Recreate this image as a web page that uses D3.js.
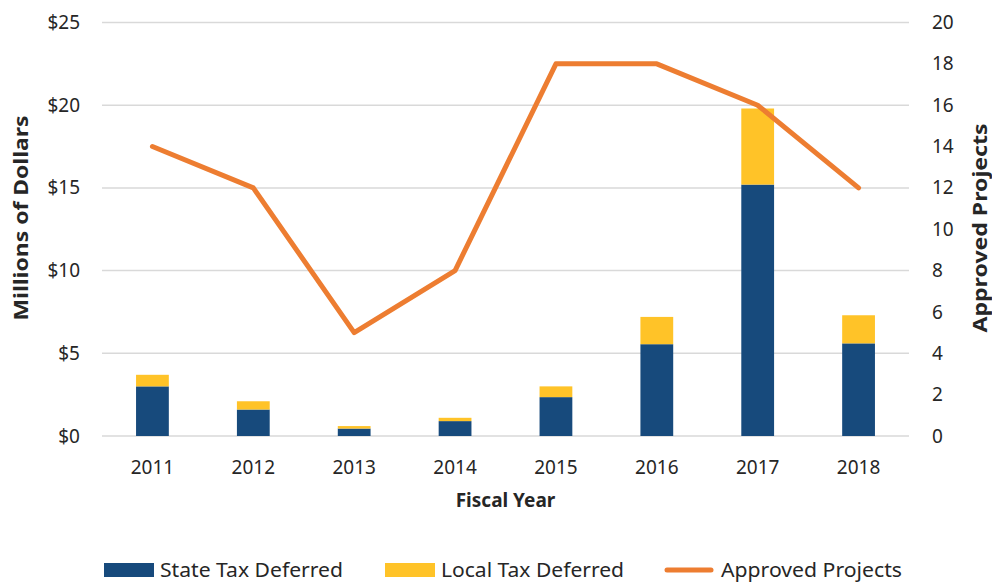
<!DOCTYPE html>
<html>
<head>
<meta charset="utf-8">
<script src="https://cdn.jsdelivr.net/npm/d3@7"></script>
<style>
  body { margin: 0; background: #fff; }
  text { font-family: "Noto Sans", sans-serif; fill: #262626; }
</style>
</head>
<body>
<svg id="chart" width="992" height="582"></svg>
<script>
// values
var years = ['2011', '2012', '2013', '2014', '2015', '2016', '2017', '2018'];
var stateTax = [3.0, 1.6, 0.45, 0.9, 2.35, 5.55, 15.2, 5.6];
var localTax = [0.7, 0.5, 0.15, 0.2, 0.65, 1.65, 4.6, 1.7];
var projects = [14, 12, 5, 8, 18, 18, 16, 12];
var dollarTicks = [0, 5, 10, 15, 20, 25];
var projectTicks = [0, 2, 4, 6, 8, 10, 12, 14, 16, 18, 20];

var blue = '#174a7c', yellow = '#ffc328', orange = '#ed7d31';

var svg = d3.select('#chart');
// plot box (window.top is read-only, so no "top" here)
var plotLeft = 102, plotRight = 909, plotTop = 22.5, plotBottom = 436;

var x = d3.scaleBand()
  .domain(years)
  .range([plotLeft, plotRight])
  .paddingInner(0.675)
  .paddingOuter(0.3375);

var y = d3.scaleLinear().domain([0, 25]).range([plotBottom, plotTop]);
var y2 = d3.scaleLinear().domain([0, 20]).range([plotBottom, plotTop]);

// gridlines
svg.append('g')
  .selectAll('line')
  .data(dollarTicks)
  .enter()
  .append('line')
  .attr('x1', plotLeft)
  .attr('x2', plotRight)
  .attr('y1', function(d) { return y(d); })
  .attr('y2', function(d) { return y(d); })
  .attr('stroke', '#d9d9d9')
  .attr('stroke-width', 1.5);

// left axis
var leftAxis = svg.append('g')
  .attr('transform', 'translate(' + plotLeft + ',0)')
  .call(d3.axisLeft(y).tickValues(dollarTicks).tickSize(0).tickPadding(22)
    .tickFormat(function(d) { return '$' + d; }));
leftAxis.select('.domain').remove();
leftAxis.selectAll('text').style('font-size', '19px').attr('fill', '#262626');

// right axis
var rightAxis = svg.append('g')
  .attr('transform', 'translate(' + plotRight + ',0)')
  .call(d3.axisRight(y2).tickValues(projectTicks).tickSize(0).tickPadding(23));
rightAxis.select('.domain').remove();
rightAxis.selectAll('text').style('font-size', '19px').attr('fill', '#262626');

// bottom axis
var bottomAxis = svg.append('g')
  .attr('transform', 'translate(0,' + plotBottom + ')')
  .call(d3.axisBottom(x).tickSize(0).tickPadding(25));
bottomAxis.select('.domain').remove();
bottomAxis.selectAll('text').style('font-size', '19px').attr('fill', '#262626');

// stacked bars
var rows = years.map(function(yr, i) {
  return { year: yr, state: stateTax[i], local: localTax[i] };
});
var stack = d3.stack().keys(['state', 'local'])(rows);
var colors = { state: blue, local: yellow };

svg.append('g')
  .selectAll('g')
  .data(stack)
  .enter()
  .append('g')
  .attr('fill', function(d) { return colors[d.key]; })
  .selectAll('rect')
  .data(function(d) { return d; })
  .enter()
  .append('rect')
  .attr('x', function(d) { return x(d.data.year); })
  .attr('width', x.bandwidth())
  .attr('y', function(d) { return y(d[1]); })
  .attr('height', function(d) { return y(d[0]) - y(d[1]); });

// approved projects line
var line = d3.line()
  .x(function(d, i) { return x(years[i]) + x.bandwidth() / 2; })
  .y(function(d) { return y2(d); });

svg.append('path')
  .datum(projects)
  .attr('d', line)
  .attr('fill', 'none')
  .attr('stroke', orange)
  .attr('stroke-width', 5)
  .attr('stroke-linecap', 'round')
  .attr('stroke-linejoin', 'round');

// axis titles
svg.append('text')
  .attr('transform', 'translate(28,218) rotate(-90)')
  .attr('text-anchor', 'middle')
  .attr('textLength', 205)
  .attr('lengthAdjust', 'spacingAndGlyphs')
  .style('font-size', '20px')
  .style('font-weight', 'bold')
  .attr('fill', '#000')
  .text('Millions of Dollars');

svg.append('text')
  .attr('transform', 'translate(987,228) rotate(-90)')
  .attr('text-anchor', 'middle')
  .attr('textLength', 209)
  .attr('lengthAdjust', 'spacingAndGlyphs')
  .style('font-size', '20px')
  .style('font-weight', 'bold')
  .attr('fill', '#000')
  .text('Approved Projects');

svg.append('text')
  .attr('x', (plotLeft + plotRight) / 2)
  .attr('y', 507)
  .attr('text-anchor', 'middle')
  .style('font-size', '19px')
  .style('font-weight', 'bold')
  .attr('fill', '#000')
  .text('Fiscal Year');

// legend
var legend = [
  { name: 'State Tax Deferred', color: blue, type: 'rect', x: 104 },
  { name: 'Local Tax Deferred', color: yellow, type: 'rect', x: 385 },
  { name: 'Approved Projects', color: orange, type: 'line', x: 665 }
];
var lg = svg.append('g')
  .selectAll('g')
  .data(legend)
  .enter()
  .append('g')
  .attr('transform', function(d) { return 'translate(' + d.x + ',570)'; });

lg.filter(function(d) { return d.type === 'rect'; })
  .append('rect')
  .attr('x', 0).attr('y', -7).attr('width', 50).attr('height', 14)
  .attr('fill', function(d) { return d.color; });

lg.filter(function(d) { return d.type === 'line'; })
  .append('line')
  .attr('x1', 2).attr('x2', 46).attr('y1', 0).attr('y2', 0)
  .attr('stroke', function(d) { return d.color; })
  .attr('stroke-width', 5)
  .attr('stroke-linecap', 'round');

lg.append('text')
  .attr('x', 56)
  .attr('y', 6.5)
  .attr('textLength', function(d) { return d.type === 'line' ? 181 : 183; })
  .attr('lengthAdjust', 'spacingAndGlyphs')
  .style('font-size', '20px')
  .attr('fill', '#262626')
  .text(function(d) { return d.name; });
</script>
</body>
</html>
